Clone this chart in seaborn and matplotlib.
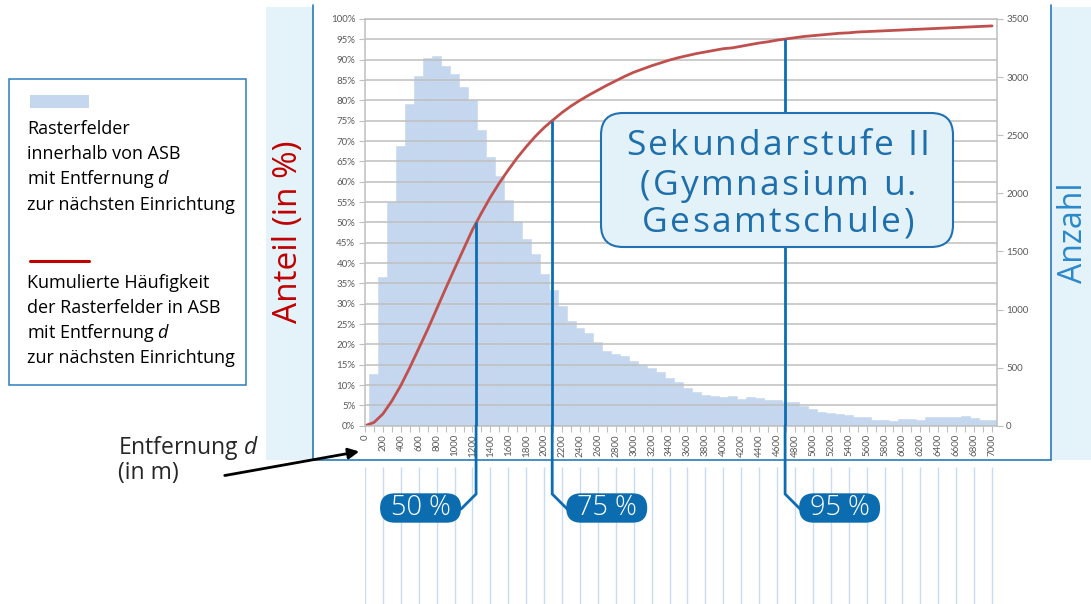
import matplotlib
matplotlib.use("Agg")
import matplotlib.pyplot as plt
import matplotlib.transforms as mtransforms
from matplotlib.patches import FancyBboxPatch, Rectangle, FancyArrowPatch
from matplotlib.lines import Line2D
from matplotlib.font_manager import FontProperties
import seaborn as sns

# ---------------- data ----------------
distance_m = list(range(0, 7001, 100))          # category positions (m)
cell_counts = [0, 448, 1277, 1923, 2407, 2766, 3009, 3162, 3184, 3093, 3024,
               2912, 2803, 2542, 2312, 2151, 1940, 1764, 1604, 1478, 1305,
               1168, 1030, 904, 841, 795, 720, 645, 617, 600, 557,
               522, 494, 465, 413, 376, 327, 290, 264, 253, 244,
               253, 232, 244, 238, 218, 218, 201, 201, 172, 144,
               121, 112, 98, 92, 77, 77, 49, 49, 40, 58,
               58, 52, 72, 72, 77, 77, 83, 66, 46, 49]
cumulative_pct = [0.0, 0.8, 2.9, 6.1, 9.9, 14.3, 19.0, 23.7, 28.7, 33.7, 38.6,
                  43.4, 48.2, 52.3, 56.2, 59.7, 62.9, 65.9, 68.6, 71.1, 73.3,
                  75.2, 77.0, 78.6, 80.0, 81.3, 82.5, 83.7, 84.8, 85.9, 86.9,
                  87.7, 88.5, 89.2, 89.9, 90.5, 91.0, 91.5, 91.9, 92.3, 92.7,
                  92.9, 93.3, 93.7, 94.1, 94.4, 94.8, 95.1, 95.4, 95.7, 95.9,
                  96.1, 96.3, 96.5, 96.6, 96.8, 96.9, 97.0, 97.1, 97.2, 97.3,
                  97.4, 97.5, 97.6, 97.7, 97.8, 97.9, 98.0, 98.1, 98.2, 98.3]
x_tick_labels = list(range(0, 7001, 200))
pct_ticks = list(range(0, 101, 5))
count_ticks = list(range(0, 3501, 500))
threshold_pct = [50, 75, 95]
threshold_dist_m = [1240, 2090, 4690]
threshold_labels = ["50 %", "75 %", "95 %"]
threshold_side = ["left", "right", "right"]
title_lines = ["Sekundarstufe II", "(Gymnasium u.", "Gesamtschule)"]

# ---------------- style ----------------
W, H = 1091, 604
BAR = "#c5d7ee"
RED = "#c0504d"
BLUE = "#0d6db3"
GRID = "#bfbfbf"
TICKC = "#595959"
TXTFONT = ["Open Sans", "DejaVu Sans"]

sns.set_theme(style="white")
plt.rcParams['font.family'] = ['Lato', 'DejaVu Sans']
plt.rcParams['mathtext.fontset'] = 'custom'
plt.rcParams['mathtext.rm'] = 'Open Sans'
plt.rcParams['mathtext.it'] = 'Open Sans:italic'

fig = plt.figure(figsize=(W / 100, H / 100), dpi=100)
fig.patch.set_facecolor("white")
ID = mtransforms.IdentityTransform()
renderer = fig.canvas.get_renderer()


def P(x, y):
    return (x, H - y)


def text_width(s, prop):
    return renderer.get_text_width_height_descent(s, prop, ismath=False)[0]


def tracked_text(xc, y_base, s, prop, track, color, zorder=6):
    """Centered text with extra letter spacing (pixels)."""
    sent = text_width("|", prop)
    offs = [text_width(s[:i] + "|", prop) - sent for i in range(len(s))]
    total = text_width(s, prop) + track * (len(s) - 1)
    x0 = xc - total / 2
    for i, ch in enumerate(s):
        if ch == " ":
            continue
        fig.text(x0 + offs[i] + i * track, H - y_base, ch, transform=ID, ha="left",
                 va="baseline", fontproperties=prop, color=color, zorder=zorder)


# background panels
fig.add_artist(Rectangle(P(266, 460), W - 266, 453, transform=ID,
                         facecolor="#e4f3fa", edgecolor="none", zorder=-3))
fig.add_artist(Rectangle(P(313, 460), 738, 455, transform=ID,
                         facecolor="white", edgecolor="none", zorder=-2))
for xs, ys in [([313, 313], [5, 460]), ([1051, 1051], [5, 460]), ([313, 1051], [460, 460])]:
    fig.add_artist(Line2D(xs, [H - v for v in ys], transform=ID, color="#2a7ab8", lw=1.2, zorder=-1))

# ---------------- main axes ----------------
ax = fig.add_axes([365 / W, 1 - 425.7 / H, 631.5 / W, 406.7 / H])
ax.patch.set_alpha(0)
sns.barplot(x=distance_m, y=cell_counts, native_scale=True, width=1.0, color=BAR,
            saturation=1, edgecolor=BAR, linewidth=0.4, errorbar=None, ax=ax)
ax.set_ylim(0, 3500)
ax.set_xlim(0, 7050)

ax2 = ax.twinx()
sns.lineplot(x=distance_m, y=cumulative_pct, color=RED, lw=2, ax=ax2)
ax2.set_ylim(0, 100)
ax2.set_xlim(0, 7050)

# right (count) axis on ax, left (percent) axis on ax2
ax.yaxis.tick_right()
ax.set_yticks(count_ticks)
ax.set_yticklabels([str(v) for v in count_ticks])
ax.tick_params(axis="y", which="major", direction="out", length=4, width=0.8, color=GRID,
               labelsize=7, labelcolor=TICKC, pad=3, right=True, left=False,
               labelright=True, labelleft=False)
ax2.yaxis.tick_left()
ax2.set_yticks(pct_ticks)
ax2.set_yticklabels([f"{v}%" for v in pct_ticks])
ax2.tick_params(axis="y", which="major", direction="out", length=4, width=0.8, color=GRID,
                labelsize=7, labelcolor=TICKC, pad=3, left=True, right=False,
                labelleft=True, labelright=False)
ax2.grid(True, axis="y", color=GRID, lw=1.1)
ax2.set_axisbelow(True)
ax.grid(False)

ax.set_xticks(x_tick_labels)
ax.set_xticklabels([str(v) for v in x_tick_labels], rotation=90)
ax.set_xticks(distance_m, minor=True)
ax.tick_params(axis="x", which="both", direction="out", length=4, width=0.8, color=GRID,
               bottom=True, labelsize=7, labelcolor=TICKC, pad=2)
for a in (ax, ax2):
    a.set_xlabel("")
    a.set_ylabel("")
for s in ax.spines.values():
    s.set_visible(False)
for s in ax2.spines.values():
    s.set_visible(True)
    s.set_color(GRID)
    s.set_linewidth(1.1)

# threshold lines inside plot
for d, p in zip(threshold_dist_m, threshold_pct):
    ax2.plot([d, d], [0, p], color=BLUE, lw=2, solid_capstyle="butt", zorder=3)

# thin light-blue guide lines under the chart
ax3 = fig.add_axes([365 / W, 0, 631.5 / W, 1 - 466.7 / H])
ax3.set_zorder(-0.5)
ax3.set_xlim(0, 7050)
ax3.set_ylim(0, 1)
ax3.vlines(x_tick_labels, 0, 1, color="#c9dbef", lw=1)
ax3.axis("off")

# connectors and percentage pills
pill_prop = FontProperties(family=TXTFONT, size=19.5, weight="light")
for d, lab, side in zip(threshold_dist_m, threshold_labels, threshold_side):
    xd = ax2.transData.transform((d, 0))[0]
    sgn = -1 if side == "left" else 1
    xe = xd + sgn * 15
    fig.add_artist(Line2D([xd, xd, xe], [H - 425.7, H - 494, H - 509], transform=ID,
                          color=BLUE, lw=2, zorder=4, solid_joinstyle="miter"))
    bw, bh = 81, 29.4
    x0 = xe - bw if side == "left" else xe - 1
    fig.add_artist(FancyBboxPatch((x0, H - 522.7), bw, bh,
                                  boxstyle=f"round,pad=0,rounding_size={bh/2}",
                                  transform=ID, facecolor="#0b6db0", edgecolor="none", zorder=5))
    fig.text(x0 + bw / 2, H - 508, lab, transform=ID, ha="center", va="center",
             color="white", fontproperties=pill_prop, zorder=6)

# title box
fig.add_artist(FancyBboxPatch((601, H - 247), 352, 134, boxstyle="round,pad=0,rounding_size=22",
                              transform=ID, facecolor="#e3f2f9", edgecolor="#2272b3",
                              lw=1.5, zorder=5))
title_prop = FontProperties(family=TXTFONT, size=25.5)
for txt, yb in zip(title_lines, [155, 195, 232]):
    tracked_text(778, yb, txt, title_prop, 2.3, "#1e6fac")

# axis titles
fig.text(289, H - 232, "Anteil (in %)", transform=ID, rotation=90, ha="center", va="center",
         color="#c00000", fontsize=24, family=TXTFONT)
fig.text(1073, H - 233, "Anzahl", transform=ID, rotation=90, ha="center", va="center",
         color="#2a88cc", fontsize=23, family=TXTFONT)

# legend box
fig.add_artist(Rectangle(P(9, 385), 237, 306, transform=ID, facecolor="white",
                         edgecolor="#2e7cbc", lw=1.1, zorder=2))
fig.add_artist(Rectangle(P(30, 108), 59, 13, transform=ID, facecolor=BAR, edgecolor="none", zorder=3))
fig.add_artist(Line2D([30, 89], [H - 260.5, H - 260.5], transform=ID, color="#c00000", lw=2.2, zorder=3))
leg1 = ["Rasterfelder", "innerhalb von ASB", "mit Entfernung $d$", "zur nächsten Einrichtung"]
leg2 = ["Kumulierte Häufigkeit", "der Rasterfelder in ASB", "mit Entfernung $d$", "zur nächsten Einrichtung"]
for lines, ys in [(leg1, [129, 154, 179, 205]), (leg2, [283, 308, 333, 358])]:
    for t, yy in zip(lines, ys):
        fig.text(27, H - yy, t, transform=ID, ha="left", va="center", color="black",
                 fontsize=13.0, family=TXTFONT, zorder=4)

# distance annotation with arrow
fig.text(118, H - 448, "Entfernung $d$", transform=ID, ha="left", va="center", fontsize=16.5,
         family=TXTFONT)
fig.text(118, H - 473, "(in m)", transform=ID, ha="left", va="center", fontsize=16.5,
         family=TXTFONT)
fig.add_artist(FancyArrowPatch(P(222, 476), P(362, 451), transform=ID, arrowstyle="-|>",
                               mutation_scale=16, lw=2, color="black", zorder=6))

fig.savefig("out.png", dpi=100)
